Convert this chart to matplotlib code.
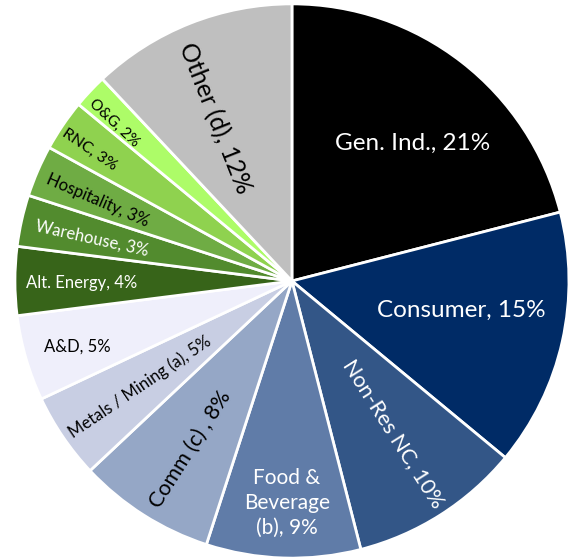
import numpy as np
import matplotlib
matplotlib.use("Agg")
from matplotlib import pyplot as plt

plt.rcParams['font.family'] = ['Lato', 'DejaVu Sans']

# segments, clockwise from 12 o'clock
labels = ['Gen. Ind.', 'Consumer', 'Non-Res NC', 'Food &\nBeverage\n(b)', 'Comm (c) ',
          'Metals / Mining (a)', 'A&D', 'Alt. Energy', 'Warehouse', 'Hospitality',
          'RNC', 'O&G', 'Other (d)']
shares = [21, 15, 10, 9, 8, 5, 5, 4, 3, 3, 3, 2, 12]
colors = ['#000000', '#002B66', '#335687', '#607CA8', '#95A7C6', '#C8CEE3', '#EFEFFB',
          '#376419', '#528B2E', '#6FAC44', '#8FD24F', '#ADFC68', '#BFBFBF']

# label styling: text colour, font size, radial position, angle nudge, rotation mode
txt_col = ['white', 'white', 'white', 'white', 'black', 'black', 'black',
           'white', 'white', 'black', 'black', 'black', 'black']
txt_size = [17.5, 17.5, 15.5, 15, 15.5, 12, 12, 12, 12, 12, 11.5, 11, 18]
txt_r = [0.66, 0.62, 0.66, 0.80, 0.71, 0.67, 0.81, 0.76, 0.74, 0.76, 0.87, 0.86, 0.65]
txt_da = [-3.4, 2.8, 1.2, 0.5, 1.3, 0.7, 0.8, 0.5, 0.5, 0.8, 1.2, 1.6, 3.8]
txt_rot = ['h', 'h', 'out', 'h', 'in', 'in', 'h', 'in', 'in', 'in', 'in', 'in', 'in']

fig = plt.figure(figsize=(5.72, 5.57), dpi=100)
ax = fig.add_axes([0, 0, 1, 1])
wedges, _ = ax.pie(shares, colors=colors, startangle=90, counterclock=False,
                   wedgeprops=dict(edgecolor='white', linewidth=2))

for w, lab, v, c, fs, r, da, mode in zip(wedges, labels, shares, txt_col, txt_size,
                                         txt_r, txt_da, txt_rot):
    mid = (w.theta1 + w.theta2) / 2
    x = r * np.cos(np.radians(mid + da))
    y = r * np.sin(np.radians(mid + da))
    if mode == 'h':
        rot = 0
    elif mode == 'out':
        rot = mid
    else:
        rot = mid - 180
    while rot > 180:
        rot -= 360
    while rot < -180:
        rot += 360
    ax.text(x, y, f'{lab}, {v}%', color=c, fontsize=fs, rotation=rot,
            rotation_mode='anchor', ha='center', va='center', multialignment='center',
            linespacing=1.3)

ax.set_xlim(-1.054, 1.011)
ax.set_ylim(-0.996, 1.014)
ax.set_aspect('auto')
ax.axis('off')

fig.savefig('out.png', dpi=100)
